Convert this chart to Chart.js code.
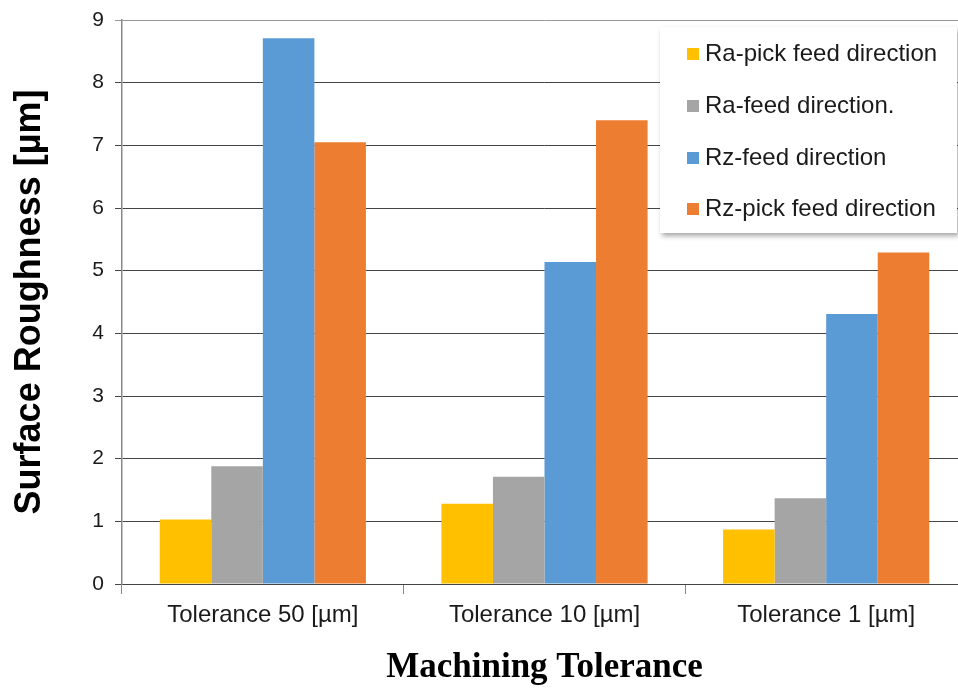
<!DOCTYPE html>
<html>
<head>
<meta charset="utf-8">
<script src="https://cdn.jsdelivr.net/npm/chart.js@4.4.1/dist/chart.umd.min.js"></script>
<style>
    html, body { margin: 0; padding: 0; background: #fff; overflow: hidden; }
    #wrap { position: relative; width: 958px; height: 689px; overflow: hidden; }
    #chart { position: absolute; left: 0; top: 0; }
    #legend {
        position: absolute; left: 660px; top: 27px; width: 297px; height: 206px;
        background: #fff; box-shadow: 2px 3px 5px rgba(0, 0, 0, 0.35);
        font-family: 'Liberation Sans', Arial, sans-serif; font-size: 24px; color: #1a1a1a;
    }
    #legend .item { position: absolute; left: 27px; height: 28px; line-height: 28px; white-space: nowrap; }
    #legend .box { display: inline-block; width: 12px; height: 12px; margin-right: 6px; vertical-align: 1px; }
</style>
</head>
<body>
<div id="wrap">
    <canvas id="chart" width="970" height="689"></canvas>
    <div id="legend"></div>
</div>
<script>
const categories = ['Tolerance 50 [µm]', 'Tolerance 10 [µm]', 'Tolerance 1 [µm]'];
const seriesNames = ['Ra-pick feed direction', 'Ra-feed direction.', 'Rz-feed direction', 'Rz-pick feed direction'];
const raPick = [1.03, 1.28, 0.87];
const raFeed = [1.88, 1.71, 1.37];
const rzFeed = [8.71, 5.14, 4.31];
const rzPick = [7.05, 7.40, 5.29];
const yTicks = [0, 1, 2, 3, 4, 5, 6, 7, 8, 9];
const colors = ['#FFC000', '#A5A5A5', '#5B9BD5', '#ED7D31'];

const seriesValues = [raPick, raFeed, rzFeed, rzPick];

Chart.defaults.font.family = "'Liberation Sans', Arial, sans-serif";
Chart.defaults.color = '#1a1a1a';

const ctx = document.getElementById('chart').getContext('2d');
const chart = new Chart(ctx, {
    type: 'bar',
    data: {
        labels: categories,
        datasets: seriesNames.map((name, i) => ({
            label: name,
            data: seriesValues[i],
            backgroundColor: colors[i],
            borderWidth: 0,
            categoryPercentage: 0.732,
            barPercentage: 1.0
        }))
    },
    options: {
        responsive: false,
        animation: false,
        layout: { padding: { top: 20, right: 3, left: 0, bottom: 0 } },
        plugins: {
            legend: { display: false },
            tooltip: { enabled: false }
        },
        scales: {
            x: {
                afterFit: (scale) => { scale.height = 105; },
                grid: {
                    display: true,
                    drawOnChartArea: false,
                    drawTicks: true,
                    tickLength: 10,
                    color: '#888'
                },
                border: { color: '#444', width: 1 },
                ticks: {
                    padding: 7,
                    font: { size: 24 },
                    color: '#1a1a1a'
                },
                title: {
                    display: true,
                    text: 'Machining Tolerance',
                    font: { family: "'Liberation Serif', 'Times New Roman', serif", size: 35, weight: 'bold' },
                    color: '#000',
                    padding: { top: 0, bottom: 0 }
                }
            },
            y: {
                min: 0,
                max: 9,
                afterFit: (scale) => { scale.width = 122; },
                afterBuildTicks: (scale) => { scale.ticks = yTicks.map(v => ({ value: v })); },
                grid: {
                    color: (c) => c.tick && c.tick.value === 9 ? '#999' : '#444',
                    lineWidth: 1,
                    drawTicks: true,
                    tickLength: 7
                },
                border: { color: '#888', width: 1.5 },
                ticks: {
                    stepSize: 1,
                    padding: 11,
                    font: { size: 21, lineHeight: 0.6 },
                    color: '#1a1a1a'
                },
                title: {
                    display: true,
                    text: 'Surface Roughness [µm]',
                    font: { size: 36, weight: 'bold' },
                    color: '#000',
                    padding: { top: 8, bottom: 0 }
                }
            }
        }
    }
});

// legend box overlapping the plot, like the original
const legendEl = document.getElementById('legend');
const rowTops = [12, 64, 116, 167];
seriesNames.forEach((name, i) => {
    const item = document.createElement('div');
    item.className = 'item';
    item.style.top = rowTops[i] + 'px';
    item.innerHTML = `<span class="box" style="background:${colors[i]}"></span>${name}`;
    legendEl.appendChild(item);
});
</script>
</body>
</html>
